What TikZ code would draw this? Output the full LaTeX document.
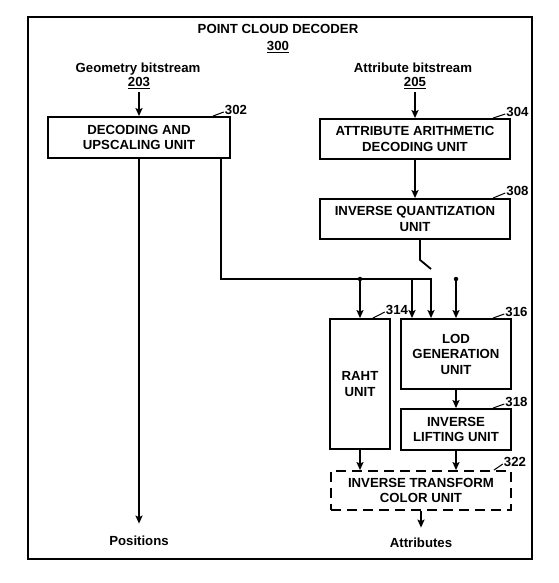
\documentclass[tikz,border=0pt]{standalone}
\usepackage{fontspec}
\setmainfont{Liberation Sans}
\usetikzlibrary{arrows.meta}
\begin{document}
\begin{tikzpicture}[x=1pt,y=-1pt,
  every node/.style={font=\fontsize{13.2}{15.5}\selectfont\bfseries},
  box/.style={draw, line width=1.8pt, inner sep=0pt, align=center, rectangle},
  dbox/.style={box, dash pattern=on 10pt off 6pt},
  arr/.style={line width=1.8pt, -{Stealth[length=8pt,width=7pt,inset=1.5pt]}},
  ln/.style={line width=1.8pt},
  lbl/.style={inner sep=1pt},
  ldr/.style={line width=1pt},
  dot/.style={circle, fill, inner sep=0pt, minimum size=4.5pt},
]
\useasboundingbox (0,0) rectangle (558,583);
\draw[ln] (28,17) rectangle (532,559);

\node[anchor=base] (title) at (278,33.7) {POINT CLOUD DECODER};
\node[anchor=base] (t300) at (278,50.7) {\underline{300}};
\node[anchor=base] (geo) at (138,72.5) {Geometry bitstream};
\node[anchor=base] (g203) at (139,86.7) {\underline{203}};
\node[anchor=base] (att) at (413,72.5) {Attribute bitstream};
\node[anchor=base] (a205) at (415,86.7) {\underline{205}};

\node[box, minimum width=182, minimum height=41] (b302) at (139,137.5) {DECODING AND\\UPSCALING UNIT};
\node[box, minimum width=190, minimum height=40] (b304) at (415,139) {ATTRIBUTE ARITHMETIC\\DECODING UNIT};
\node[box, minimum width=190, minimum height=40] (b308) at (415,219) {INVERSE QUANTIZATION\\UNIT};
\node[box, minimum width=60, minimum height=130] (b314) at (360,384) {RAHT\\UNIT};
\node[box, minimum width=110, minimum height=70] (b316) at (456,354) {LOD\\GENERATION\\UNIT};
\node[box, minimum width=110, minimum height=41] (b318) at (456,429.5) {INVERSE\\LIFTING UNIT};
\node[dbox, minimum width=180, minimum height=39] (b322) at (421,490.5) {INVERSE TRANSFORM\\COLOR UNIT};

\node[lbl] (l302) at (236,110) {302};
\node[lbl] (l304) at (517.5,112) {304};
\node[lbl] (l308) at (517.5,191) {308};
\node[lbl] (l314) at (397,310) {314};
\node[lbl] (l316) at (516.5,312) {316};
\node[lbl] (l318) at (516.5,402) {318};
\node[lbl] (l322) at (515,462) {322};
\draw[ldr] ([xshift=-18pt]b302.north east) -- ([yshift=-2pt]l302.west);
\draw[ldr] ([xshift=-18pt]b304.north east) -- ([yshift=-2pt]l304.west);
\draw[ldr] ([xshift=-18pt]b308.north east) -- ([yshift=-2pt]l308.west);
\draw[ldr] ([xshift=-18pt]b314.north east) -- ([yshift=-2pt]l314.west);
\draw[ldr] ([xshift=-19pt]b316.north east) -- ([yshift=-2pt]l316.west);
\draw[ldr] ([xshift=-19pt]b318.north east) -- ([yshift=-2pt]l318.west);
\draw[ldr] ([xshift=-18pt]b322.north east) -- ([yshift=-2pt]l322.west);

\node (pos) at (139,541) {Positions};
\node (attr) at (421,543) {Attributes};

\coordinate (bus) at (431,279);
\coordinate (j2) at (412,279);
\node[dot] (j1) at (360,279) {};
\node[dot] (j3) at (456,279) {};
\coordinate (sw) at (431,269);

\draw[arr] (g203.south) -- (g203.south |- b302.north);
\draw[arr] (a205.south) -- (a205.south |- b304.north);
\draw[arr] (b304) -- (b308);
\draw[arr] (b302.south) -- ([yshift=9pt]pos.north);
\draw[arr] ([xshift=-10pt]b302.south east) |- (bus) -- (bus |- b316.north);
\draw[ln] ([xshift=5pt]b308.south) -- ++(0,20) -- (sw);
\draw[arr] (j1.center) -- (j1 |- b314.north);
\draw[arr] (j2) -- (j2 |- b316.north);
\draw[arr] (j3.center) -- (j3 |- b316.north);
\draw[arr] (b316) -- (b318);
\draw[arr] (b314.south) -- (b314.south |- b322.north);
\draw[arr] (b318.south) -- (b318.south |- b322.north);
\draw[arr] (b322.south) -- ([yshift=7pt]attr.north);
\end{tikzpicture}
\end{document}
